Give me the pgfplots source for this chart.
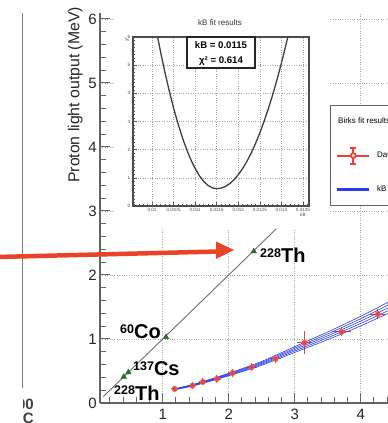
\documentclass[border=0pt]{standalone}
\usepackage{fontspec}
\setmainfont{Liberation Sans}
\usepackage{pgfplots}
\pgfplotsset{compat=1.18}
\usepackage{pgfplotstable}

\definecolor{datared}{RGB}{238,64,52}
\definecolor{arrowred}{RGB}{233,67,42}
\definecolor{fitblue}{RGB}{40,60,235}
\definecolor{mkgreen}{RGB}{35,110,40}
\definecolor{axgray}{RGB}{100,100,100}
\definecolor{gridgray}{RGB}{165,165,165}
\definecolor{linegray}{RGB}{110,110,110}

\pgfplotstableread{
x y ex ey
1.18 0.22 0.06 0.012
1.45 0.27 0.06 0.012
1.61 0.33 0.06 0.015
1.82 0.375 0.07 0.018
2.06 0.47 0.07 0.02
2.35 0.56 0.08 0.02
2.71 0.69 0.09 0.025
3.15 0.94 0.11 0.14
3.71 1.11 0.14 0.03
4.26 1.39 0.12 0.045
}\birksdata

\pgfplotstableread{
x a b c d e
1.18 0.207 0.211 0.215 0.219 0.223
1.5 0.278 0.284 0.290 0.296 0.302
2.0 0.425 0.435 0.445 0.455 0.465
2.5 0.590 0.605 0.620 0.635 0.650
3.0 0.790 0.8125 0.835 0.8575 0.880
3.5 0.990 1.020 1.050 1.080 1.110
4.0 1.205 1.2425 1.280 1.3175 1.355
4.5 1.440 1.485 1.530 1.575 1.620
}\bandtable

\pgfplotstableread{
x y
0.0101 6.239
0.0102 5.464
0.0103 4.747
0.0104 4.087
0.0105 3.484
0.0106 2.939
0.0107 2.451
0.0108 2.020
0.0109 1.647
0.0110 1.332
0.0111 1.073
0.0112 0.872
0.0113 0.729
0.0114 0.643
0.0115 0.614
0.0116 0.634
0.0117 0.693
0.0118 0.792
0.0119 0.931
0.0120 1.109
0.0121 1.327
0.0122 1.584
0.0123 1.881
0.0124 2.218
0.0125 2.594
0.0126 3.010
0.0127 3.465
0.0128 3.960
0.0129 4.495
0.0130 5.069
0.0131 5.683
0.0132 6.336
}\chitable

\begin{document}
\begin{tikzpicture}[x=1pt,y=1pt]
\useasboundingbox (0,0) rectangle (388,423);
\clip (0,0) rectangle (388,423);

% left remnant of neighbouring panel
\draw[black!50, line width=1.1pt] (22.5,410) -- (22.5,35);
\begin{scope}
\clip (23,0) rectangle (60,423);
\node[anchor=base east, inner sep=0pt, text=black!75, font=\bfseries\fontsize{15}{15}\selectfont] at (34,13) {100};
\node[anchor=north east, inner sep=0pt, text=black!75, font=\bfseries\fontsize{15}{15}\selectfont] at (34,10) {DC};
\end{scope}

% main axis
\begin{axis}[
 at={(100pt,20pt)}, anchor=south west, scale only axis,
 width=293.7pt, height=390.4pt,
 xmin=0.05, xmax=4.5, ymin=0, ymax=6.1,
 axis x line*=bottom, axis y line*=left,
 axis line style={draw=axgray, line width=1.2pt, -},
 xtick={1,2,3,4}, ytick={0,1,...,6},
 minor xtick={0.2,0.4,0.6,0.8,1.2,1.4,1.6,1.8,2.2,2.4,2.6,2.8,3.2,3.4,3.6,3.8,4.2,4.4},
 minor y tick num=4,
 tick align=inside, major tick length=10pt, minor tick length=5.5pt,
 tick style={draw=axgray, line width=1pt},
 grid=major, major grid style={gridgray, dotted, line width=0.8pt},
 tick label style={font=\fontsize{15}{15}\selectfont, text=black!85},
 /pgf/number format/assume math mode=true,
 xticklabel style={inner sep=0pt, anchor=north, yshift=-5.5pt},
 yticklabel style={inner sep=0pt, anchor=east, xshift=-3pt},
 legend style={at={(0.7831,0.7633)}, anchor=north west, draw=axgray, fill=white,
   line width=0.8pt, inner xsep=7pt, inner ysep=7pt, row sep=15pt, column sep=6pt,
   font=\fontsize{8}{9}\selectfont, cells={anchor=west, inner xsep=0pt, inner ysep=0pt}},
]
\addlegendimage{legend image code/.code={\path (0pt,-9pt) (31pt,9pt);}}
\addlegendentry{\hspace*{-39pt}Birks fit results}

\addplot[linegray, line width=0.9pt, forget plot] coordinates {(0.1,0.1) (2.73,2.73)};
\addplot[only marks, mark=triangle*, mark size=3.2pt, mkgreen, forget plot]
  coordinates {(0.41,0.41) (0.48,0.48) (1.05,1.03) (2.38,2.37)};

\addplot[datared, only marks, mark=none, forget plot,
  error bars/.cd, x dir=both, x explicit, error mark=none,
  error bar style={line width=1pt, datared}]
  table[x=x, y=y, x error=ex] {\birksdata};
\addplot[datared, only marks, mark=o, mark size=2.6pt,
  mark options={fill=datared!15, draw=datared!85, line width=0.8pt},
  legend image code/.code={
    \path (0pt,-9pt) (31pt,9pt);
    \fill[fill=datared] (0pt,-0.5pt) rectangle (31pt,0.5pt);
    \fill[fill=datared] (15pt,-8.5pt) rectangle (16pt,8.5pt);
    \fill[fill=datared] (13pt,-8.5pt) rectangle (18pt,-7.5pt);
    \fill[fill=datared] (13pt,7.5pt) rectangle (18pt,8.5pt);
    \fill[fill=datared] (15.5pt,0pt) circle (3pt);
    \fill[fill=datared!20] (15.5pt,0pt) circle (2.1pt);
  },
  error bars/.cd, y dir=both, y explicit,
  error bar style={line width=1pt, datared},
  error mark options={mark size=2.5pt, line width=1pt, datared}]
  table[x=x, y=y, y error=ey] {\birksdata};
\addlegendentry{Data}

\addplot[fitblue, line width=0.6pt, smooth, forget plot] table[x=x, y=a] {\bandtable};
\addplot[fitblue, line width=0.6pt, smooth, forget plot] table[x=x, y=b] {\bandtable};
\addplot[fitblue, line width=0.6pt, smooth, forget plot] table[x=x, y=d] {\bandtable};
\addplot[fitblue, line width=0.6pt, smooth, forget plot] table[x=x, y=e] {\bandtable};
\addplot[fitblue, line width=0.6pt, smooth,
  legend image code/.code={
    \path (0pt,-9pt) (31pt,9pt);
    \fill[fill=fitblue] (0pt,-0.65pt) rectangle (31pt,0.65pt);
  }] table[x=x, y=c] {\bandtable};
\addlegendentry{kB fit}
\end{axis}

% y label of main axis
\node[rotate=90, anchor=base west, inner sep=0pt, font=\fontsize{15.8}{16}\selectfont, text=black!85]
  at (79.3,240) {Proton light output (MeV)};

% inset canvas
\fill[white] (114,194) rectangle (329,424);

\begin{axis}[
 at={(133pt,217pt)}, anchor=south west, scale only axis, width=176pt, height=169pt,
 xmin=0.00956, xmax=0.01364, ymin=0, ymax=6,
 axis line style={draw=black!70, line width=1.1pt},
 xtick={0.01,0.0105,0.011,0.0115,0.012,0.0125,0.013,0.0135},
 xticklabels={0.01,0.0105,0.011,0.0115,0.012,0.0125,0.013,0.0135},
 minor xtick={0.0096,0.0097,0.0098,0.0099,0.0101,0.0102,0.0103,0.0104,0.0106,0.0107,0.0108,0.0109,0.0111,0.0112,0.0113,0.0114,0.0116,0.0117,0.0118,0.0119,0.0121,0.0122,0.0123,0.0124,0.0126,0.0127,0.0128,0.0129,0.0131,0.0132,0.0133,0.0134,0.0136},
 scaled x ticks=false,
 ytick={0,1,...,6}, minor y tick num=7,
 xtick pos=bottom, ytick pos=left,
 tick align=inside, major tick length=4pt, minor tick length=2pt,
 tick style={draw=black!65, line width=0.6pt},
 grid=major, major grid style={gridgray, dotted, line width=0.6pt},
 tick label style={font=\fontsize{4.6}{5}\selectfont, text=black!70},
 /pgf/number format/assume math mode=true,
 xticklabel style={inner sep=0pt, anchor=north, yshift=-2.5pt},
 yticklabel style={inner sep=0pt, anchor=east, xshift=-2.5pt},
]
\addplot[black!75, line width=1.3pt] table[x=x, y=y] {\chitable};
\end{axis}

\node[font=\fontsize{8}{9}\selectfont, text=black!80] at (220,400) {kB fit results};
\node[rotate=90, font=\fontsize{4.6}{5}\selectfont, text=black!70, inner sep=0pt] at (127,383) {χ²};
\node[font=\fontsize{4.6}{5}\selectfont, text=black!70, inner sep=0pt] at (303,208) {kB};

\draw[black!85, line width=1.2pt, fill=white] (187,386) rectangle (255,355);
\node[font=\bfseries\fontsize{9.6}{10}\selectfont, inner sep=0pt] at (221,377.5) {kB = 0.0115};
\node[font=\bfseries\fontsize{9.6}{10}\selectfont, inner sep=0pt] at (221,362) {χ² = 0.614};

% isotope labels
\node[anchor=base west, inner sep=0pt, font=\bfseries\fontsize{20}{20}\selectfont] at (120,84)
  {\raisebox{5pt}{\fontsize{12.5}{12.5}\selectfont 60}Co};
\node[anchor=base west, inner sep=0pt, font=\bfseries\fontsize{20}{20}\selectfont] at (133,47)
  {\raisebox{5pt}{\fontsize{12.5}{12.5}\selectfont 137}Cs};
\node[anchor=base west, inner sep=0pt, font=\bfseries\fontsize{20}{20}\selectfont] at (114,23)
  {\raisebox{5pt}{\fontsize{12.5}{12.5}\selectfont 228}Th};
\node[anchor=base west, inner sep=0pt, font=\bfseries\fontsize{20}{20}\selectfont] at (260,160)
  {\raisebox{5pt}{\fontsize{12.5}{12.5}\selectfont 228}Th};

% red arrow
\draw[arrowred, line width=4.5pt] (-3,166) -- (218,171.5);
\fill[arrowred] (216,181.5) -- (234,173) -- (216,164) -- cycle;
\end{tikzpicture}
\end{document}
